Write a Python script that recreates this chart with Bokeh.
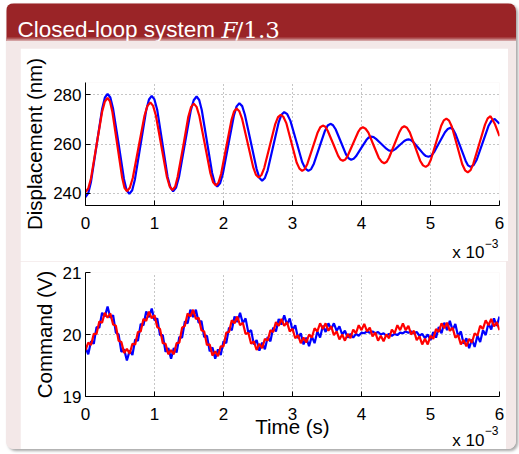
import numpy as np
from bokeh.plotting import figure
from bokeh.layouts import column
from bokeh.models import Range1d, Label, FixedTicker
from bokeh.embed import file_html
from bokeh.resources import INLINE

# ---------------- data (time in units of 1e-3 s) ----------------
disp_blue_t = [0.00, 0.04, 0.08, 0.16, 0.24, 0.28, 0.32,
               0.36, 0.40, 0.48, 0.557, 0.596, 0.636,
               0.677, 0.717, 0.798, 0.879, 0.92, 0.96,
               0.999, 1.04, 1.115, 1.19, 1.231, 1.27,
               1.313, 1.355, 1.44, 1.525, 1.568, 1.61,
               1.648, 1.685, 1.76, 1.835, 1.873, 1.91,
               1.95, 1.99, 2.07, 2.15, 2.19, 2.23,
               2.271, 2.31, 2.395, 2.48, 2.519, 2.56,
               2.60, 2.64, 2.72, 2.80, 2.84, 2.88,
               2.924, 2.97, 3.055, 3.14, 3.186, 3.23,
               3.27, 3.31, 3.39, 3.47, 3.51, 3.55,
               3.588, 3.625, 3.70, 3.775, 3.813, 3.85,
               3.886, 3.92, 3.995, 4.07, 4.104, 4.14,
               4.176, 4.21, 4.285, 4.36, 4.394, 4.43,
               4.461, 4.49, 4.555, 4.62, 4.649, 4.68,
               4.716, 4.75, 4.825, 4.90, 4.934, 4.97,
               5.01, 5.05, 5.13, 5.21, 5.25, 5.29,
               5.326, 5.36, 5.435, 5.51, 5.544, 5.58,
               5.624, 5.67, 5.755, 5.84, 5.886, 5.93, 6.00]
disp_blue = [238.4, 240.0, 244.7, 259.4, 274.1, 278.8, 280.4,
             278.9, 274.3, 260.0, 245.8, 241.2, 239.7,
             241.2, 245.7, 259.7, 273.6, 278.1, 279.6,
             278.1, 273.8, 260.2, 246.6, 242.3, 240.8,
             242.3, 246.6, 260.1, 273.5, 277.8, 279.3,
             277.9, 273.8, 261.0, 248.2, 244.1, 242.7,
             244.0, 247.8, 259.7, 271.5, 275.3, 276.6,
             275.4, 271.9, 260.9, 249.8, 246.3, 245.1,
             246.2, 249.3, 259.1, 268.8, 271.9, 273.0,
             272.1, 269.4, 261.1, 252.7, 250.0, 249.1,
             249.8, 252.0, 258.7, 265.3, 267.5, 268.2,
             267.6, 266.0, 260.9, 255.8, 254.2, 253.6,
             254.0, 255.0, 258.3, 261.6, 262.6, 263.0,
             262.8, 262.1, 260.1, 258.1, 257.4, 257.2,
             257.4, 257.9, 259.6, 261.2, 261.7, 261.9,
             261.6, 260.8, 258.4, 255.9, 255.1, 254.8,
             255.2, 256.6, 260.7, 264.8, 266.1, 266.6,
             266.0, 264.2, 258.7, 253.1, 251.3, 250.7,
             251.4, 253.6, 260.5, 267.3, 269.5, 270.2, 268.2]

disp_red_t = [0.00, 0.04, 0.08, 0.16, 0.24, 0.28, 0.32,
              0.355, 0.39, 0.46, 0.53, 0.565, 0.60,
              0.6425, 0.685, 0.77, 0.855, 0.8975, 0.94,
              0.98, 1.02, 1.10, 1.18, 1.22, 1.26,
              1.299, 1.335, 1.415, 1.49, 1.531, 1.57,
              1.61, 1.65, 1.73, 1.81, 1.85, 1.89,
              1.9275, 1.965, 2.04, 2.115, 2.1525, 2.19,
              2.23, 2.27, 2.35, 2.43, 2.47, 2.51,
              2.55, 2.59, 2.67, 2.75, 2.79, 2.83,
              2.869, 2.91, 2.985, 3.06, 3.101, 3.14,
              3.1775, 3.215, 3.29, 3.365, 3.4025, 3.44,
              3.476, 3.51, 3.585, 3.66, 3.694, 3.73,
              3.766, 3.80, 3.875, 3.95, 3.984, 4.02,
              4.059, 4.10, 4.175, 4.25, 4.291, 4.33,
              4.366, 4.40, 4.475, 4.55, 4.584, 4.62,
              4.659, 4.70, 4.775, 4.85, 4.891, 4.93,
              4.9675, 5.005, 5.08, 5.155, 5.1925, 5.23,
              5.269, 5.31, 5.385, 5.46, 5.501, 5.54,
              5.581, 5.62, 5.705, 5.79, 5.829, 5.87,
              5.935, 6.00]
disp_red = [240.4, 241.9, 246.1, 259.6, 273.0, 277.2, 278.7,
            277.3, 273.0, 259.8, 246.5, 242.2, 240.8,
            242.2, 246.2, 258.9, 271.5, 275.5, 276.9,
            275.5, 271.6, 259.1, 246.6, 242.7, 241.3,
            242.6, 246.6, 258.9, 271.1, 275.1, 276.4,
            275.1, 271.4, 259.8, 248.1, 244.4, 243.1,
            244.3, 247.8, 258.8, 269.7, 273.2, 274.4,
            273.3, 270.2, 260.4, 250.6, 247.5, 246.4,
            247.4, 250.2, 259.2, 268.1, 270.9, 271.9,
            271.0, 268.5, 260.5, 252.5, 250.0, 249.1,
            249.8, 251.9, 258.3, 264.7, 266.8, 267.5,
            267.0, 265.4, 260.4, 255.3, 253.7, 253.2,
            253.7, 255.2, 260.0, 264.8, 266.3, 266.8,
            266.2, 264.6, 259.5, 254.4, 252.8, 252.2,
            252.8, 254.5, 259.7, 264.9, 266.6, 267.2,
            266.6, 264.7, 259.0, 253.2, 251.3, 250.7,
            251.4, 253.6, 260.5, 267.4, 269.6, 270.3,
            269.5, 267.0, 259.4, 251.8, 249.3, 248.5,
            249.4, 251.9, 259.9, 267.9, 270.4, 271.3,
            268.0, 263.2]

# command signals sampled every 0.04e-3 s
cmd_t = np.round(np.arange(151) * 0.04, 2)
cmd_blue = [19.79, 19.68, 19.89, 19.85, 20.12, 20.11, 20.35, 20.29, 20.45, 20.27,
            20.31, 20.03, 20.00, 19.72, 19.76, 19.58, 19.74, 19.67, 19.92, 19.90,
            20.17, 20.15, 20.37, 20.28, 20.42, 20.23, 20.26, 19.99, 19.99, 19.72,
            19.78, 19.61, 19.78, 19.71, 19.96, 19.95, 20.21, 20.18, 20.40, 20.28,
            20.40, 20.19, 20.22, 19.96, 19.98, 19.73, 19.79, 19.61, 19.76, 19.67,
            19.89, 19.86, 20.11, 20.07, 20.29, 20.20, 20.35, 20.18, 20.26, 20.03,
            20.07, 19.84, 19.91, 19.74, 19.87, 19.76, 19.96, 19.89, 20.11, 20.05,
            20.25, 20.16, 20.31, 20.16, 20.26, 20.07, 20.15, 19.94, 20.02, 19.84,
            19.95, 19.81, 19.97, 19.86, 20.05, 19.95, 20.14, 20.04, 20.18, 20.09,
            20.18, 20.06, 20.13, 20.00, 20.06, 19.95, 20.01, 19.95, 20.01, 19.98,
            20.03, 20.02, 20.05, 20.03, 20.05, 20.02, 20.04, 20.00, 20.02, 19.98,
            20.01, 19.98, 20.01, 19.99, 20.03, 20.02, 20.05, 20.03, 20.05, 20.02,
            20.04, 19.98, 20.01, 19.94, 20.00, 19.91, 20.04, 19.95, 20.12, 20.02,
            20.19, 20.07, 20.22, 20.07, 20.17, 19.97, 20.05, 19.85, 19.94, 19.78,
            19.92, 19.80, 19.98, 19.88, 20.07, 19.99, 20.18, 20.08, 20.26, 20.14,
            20.29]
cmd_red = [19.75, 19.87, 19.83, 20.01, 20.01, 20.21, 20.19, 20.35, 20.27, 20.34,
           20.16, 20.14, 19.90, 19.88, 19.70, 19.77, 19.69, 19.85, 19.84, 20.04,
           20.05, 20.25, 20.22, 20.37, 20.26, 20.31, 20.12, 20.09, 19.86, 19.85,
           19.68, 19.75, 19.68, 19.86, 19.87, 20.11, 20.14, 20.34, 20.29, 20.40,
           20.25, 20.27, 20.07, 20.05, 19.83, 19.84, 19.66, 19.73, 19.65, 19.81,
           19.81, 20.03, 20.04, 20.23, 20.18, 20.29, 20.15, 20.19, 20.01, 20.03,
           19.85, 19.89, 19.75, 19.85, 19.78, 19.93, 19.90, 20.07, 20.04, 20.20,
           20.14, 20.25, 20.14, 20.20, 20.05, 20.09, 19.94, 19.99, 19.86, 19.95,
           19.87, 20.00, 19.95, 20.10, 20.05, 20.18, 20.09, 20.18, 20.06, 20.13,
           19.99, 20.05, 19.92, 20.00, 19.90, 20.01, 19.94, 20.08, 20.02, 20.15,
           20.07, 20.17, 20.05, 20.11, 19.97, 20.03, 19.90, 19.98, 19.89, 20.00,
           19.94, 20.08, 20.02, 20.15, 20.07, 20.18, 20.07, 20.14, 20.00, 20.06,
           19.91, 19.97, 19.84, 19.93, 19.84, 19.98, 19.93, 20.09, 20.04, 20.18,
           20.10, 20.19, 20.06, 20.11, 19.95, 19.99, 19.84, 19.91, 19.81, 19.93,
           19.87, 20.02, 19.98, 20.14, 20.09, 20.23, 20.15, 20.25, 20.13, 20.20,
           20.07]

x_ticks = [0, 1, 2, 3, 4, 5, 6]
disp_ticks = [240, 260, 280]
cmd_ticks = [19, 20, 21]

TITLE = "Closed-loop system"
HEADER_RED = "#9a2427"
BODY_PINK = "#f3e8e8"
FONT = "Liberation Sans"


def style_plot(p, yticks, x_standoff):
    p.xaxis.ticker = FixedTicker(ticks=x_ticks)
    p.yaxis.ticker = FixedTicker(ticks=yticks)
    p.xgrid.ticker = FixedTicker(ticks=x_ticks)
    p.ygrid.ticker = FixedTicker(ticks=yticks)
    for g in (p.xgrid, p.ygrid):
        g.grid_line_color = "#8c8c8c"
        g.grid_line_dash = "1 3"
        g.grid_line_width = 1
    for ax in (p.xaxis, p.yaxis):
        ax.axis_line_color = "black"
        ax.axis_line_width = 1
        ax.major_tick_in = 5
        ax.major_tick_out = 0
        ax.minor_tick_in = 0
        ax.minor_tick_out = 0
        ax.major_tick_line_color = "black"
        ax.major_label_text_font = FONT
        ax.major_label_text_font_size = "17px"
        ax.major_label_text_color = "black"
        ax.axis_label_text_font = FONT
        ax.axis_label_text_font_size = "20.5px"
        ax.axis_label_text_font_style = "normal"
        ax.axis_label_text_color = "black"
    p.yaxis.major_label_standoff = 4
    p.yaxis.axis_label_standoff = 4
    p.xaxis.major_label_standoff = x_standoff


def make_plot(frame_h, top, bottom, yr):
    return figure(frame_width=414, frame_height=frame_h,
                  x_range=Range1d(0, 6), y_range=Range1d(*yr),
                  output_backend="svg", toolbar_location=None,
                  min_border_left=63, min_border_right=9,
                  min_border_top=top, min_border_bottom=bottom,
                  background_fill_color="white", border_fill_color="white",
                  outline_line_color=None)


def add_exponent(p, y0, dy_main, dy_sup, sup_place):
    main = Label(x=6, y=y0, x_offset=-15, y_offset=-dy_main, text="x 10",
                 text_align="right", text_baseline="alphabetic",
                 text_font=FONT, text_font_size="17px", text_color="black")
    sup = Label(x=6, y=y0, x_offset=-1, y_offset=-dy_sup, text="\u22123",
                text_align="right", text_baseline="alphabetic",
                text_font=FONT, text_font_size="12px", text_color="black")
    p.add_layout(main, "below")
    p.add_layout(sup, sup_place)


# ---------------- header ----------------
header = figure(width=510, height=38, x_range=Range1d(0, 510), y_range=Range1d(0, 38),
                output_backend="svg", toolbar_location=None, min_border=0,
                x_axis_location=None, y_axis_location=None,
                background_fill_color=HEADER_RED, border_fill_color=HEADER_RED,
                outline_line_color=None)
header.grid.visible = False
shade = ["#eddcdc", "#e2c2c3", "#cb8f90", "#b05557"]
header.quad(left=[0] * 4, right=[510] * 4, bottom=[0, 1, 2, 3], top=[1, 2, 3, 4],
            fill_color=shade, line_color=None)
header.add_layout(Label(x=11, y=12, text=TITLE, text_font=FONT, text_font_size="22.5px",
                        text_color="white", text_baseline="alphabetic"))
header.add_layout(Label(x=215, y=12, text="F", text_font="DejaVu Serif",
                        text_font_style="italic", text_font_size="23px",
                        text_color="white", text_baseline="alphabetic"))
header.add_layout(Label(x=229, y=12, text="/1.3", text_font="DejaVu Serif",
                        text_font_size="23px", text_color="white", text_baseline="alphabetic"))

# ---------------- top plot: displacement ----------------
p1 = make_plot(123, 34, 56, (235, 285))
style_plot(p1, disp_ticks, 11)
p1.yaxis.axis_label = "Displacement (nm)"
p1.line(disp_blue_t, disp_blue, line_color="#0000ff", line_width=2.2)
p1.line(disp_red_t, disp_red, line_color="#ff0000", line_width=2.2)
add_exponent(p1, 235, 47, 38, "above")
p1.margin = (7, 10, 0, 14)

# ---------------- bottom plot: command ----------------
p2 = make_plot(124, 11, 50, (19, 21))
style_plot(p2, cmd_ticks, 11)
p2.yaxis.axis_label = "Command (V)"
p2.xaxis.axis_label = "Time (s)"
p2.xaxis.axis_label_standoff = -8
p2.line(cmd_t, cmd_blue, line_color="#0000ff", line_width=2.2)
p2.line(cmd_t, cmd_red, line_color="#ff0000", line_width=2.2)
add_exponent(p2, 19, 44, 34, "below")
p2.margin = (0, 10, 3, 14)

body = column(p1, p2, styles={"background-color": BODY_PINK})
page = column(header, body, width=510, height=446, margin=(3, 0, 0, 6),
              styles={"border-radius": "8px", "overflow": "hidden",
                      "background-color": BODY_PINK,
                      "box-shadow": "2px 2px 3px rgba(0,0,0,0.35)"})

open("out.html", "w").write(file_html(page, INLINE))
